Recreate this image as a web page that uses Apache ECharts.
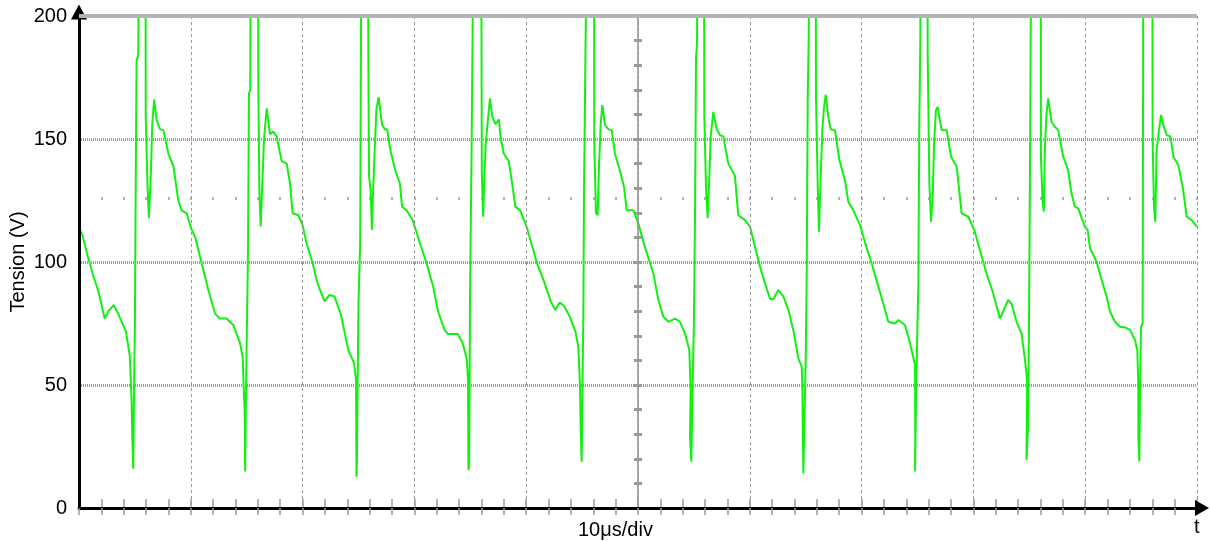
<!DOCTYPE html>
<html>
<head>
<meta charset="utf-8">
<script src="https://cdn.jsdelivr.net/npm/echarts@6/dist/echarts.min.js"></script>
<style>
html,body{margin:0;padding:0;background:#fff;}
#chart{width:1210px;height:541px;}
</style>
</head>
<body>
<div id="chart"></div>
<script>
// Time in µs, voltage in V, period by period
const period1 = [[0,114],[0.3,111],[0.8,102],[1.3,94],[1.7,88.6],[2.3,77],[2.6,79.8],[3.1,82.5],[3.5,79],[4.2,71.7],[4.55,61.5],[4.7,44],[4.77,29],[4.85,16],[4.92,46],[5.0,73.7],[5.05,115],[5.15,182],[5.3,184],[5.35,230],[5.95,230],[5.97,159],[6.12,132],[6.25,117.8],[6.42,134.7],[6.55,155.7],[6.72,166],[6.95,157.7],[7.25,154],[7.55,153.6],[8.0,144],[8.45,138.8],[8.88,125],[9.18,121],[9.63,119.8],[10.0,114]];
const period2 = [[10.4,110],[10.97,99.5],[11.57,88.6],[12.17,79],[12.6,77],[13.2,77],[13.8,74.4],[14.4,67],[14.64,61.5],[14.76,45],[14.82,40],[14.86,14.8],[14.92,40],[15.0,68],[15.12,105],[15.2,168.6],[15.32,170],[15.35,230],[16.02,230],[16.04,172],[16.13,129],[16.25,114.4],[16.37,129],[16.55,150],[16.79,162.5],[17.08,152],[17.38,153],[17.68,151],[18.13,141],[18.58,140],[18.87,132],[19.11,119.8],[19.62,119],[20.0,115]];
const period3 = [[20.35,107.6],[20.9,99.5],[21.35,91],[21.97,84],[22.4,86.6],[22.85,86],[23.4,79],[24.1,64],[24.6,59],[24.78,52],[24.8,30],[24.82,12.7],[24.86,19.5],[24.92,50.7],[25.0,83],[25.15,107.6],[25.22,190],[25.26,230],[25.86,230],[25.88,185],[25.94,135],[26.09,129],[26.2,113],[26.3,128],[26.47,148],[26.6,162],[26.8,167],[27.1,156],[27.35,154],[27.56,154],[27.85,145.5],[28.3,137],[28.7,132],[28.9,122.5],[29.3,121],[29.85,117]];
const period4 = [[30.5,107.6],[31.09,99.5],[31.68,90],[32.12,79.8],[32.7,72.4],[33.0,70.7],[33.88,70.7],[34.32,67],[34.68,60.8],[34.8,52],[34.82,30],[34.84,15.4],[34.9,18],[34.97,83],[35.12,148],[35.22,200],[35.26,230],[35.98,230],[36.0,197],[36.03,136],[36.15,118.4],[36.26,135],[36.38,148],[36.62,160],[36.76,166.5],[36.97,159],[37.26,156],[37.56,158],[37.7,151],[38.0,144],[38.44,141],[38.74,132],[39.03,122.5],[39.47,121],[40.06,114]];
const period5 = [[40.5,107],[41.0,99],[41.6,92],[42.2,84],[42.6,80.5],[43.0,83.5],[43.4,82],[43.9,77.8],[44.4,71.7],[44.66,65.6],[44.81,50],[44.88,30.5],[44.96,18.8],[45.03,46.7],[45.11,78.5],[45.17,128],[45.32,193],[45.41,230],[46.07,230],[46.09,148],[46.24,120],[46.39,119],[46.51,138.7],[46.66,155.7],[46.81,163.8],[47.05,155.6],[47.35,154],[47.65,153.5],[47.94,144],[48.39,137],[48.75,130.6],[48.99,121],[49.58,121],[50.03,115.7]];
const period6 = [[50.62,106],[51.37,95.4],[51.82,84.6],[52.26,77.8],[52.71,75.7],[53.31,77],[53.76,75.7],[54.2,71],[54.59,64.2],[54.71,48],[54.65,29],[54.77,18.8],[54.86,42.5],[55.0,75],[55.1,118.4],[55.19,182.8],[55.28,189],[55.31,230],[55.91,230],[55.93,160.4],[56.08,130.6],[56.23,117.8],[56.38,134.7],[56.5,151],[56.74,161],[57.04,154],[57.33,151.6],[57.63,151],[58.08,140],[58.67,135],[58.97,119],[59.57,117],[60.02,114.4]];
const period7 = [[60.47,106],[60.92,98],[61.36,91.3],[61.81,85],[62.11,85],[62.55,88.6],[63.0,86],[63.45,80.5],[63.89,72.4],[64.34,60.8],[64.64,57.5],[64.7,49.3],[64.79,14],[64.88,34.4],[65.0,60],[65.09,94],[65.18,167],[65.27,190],[65.3,230],[65.9,230],[65.92,167],[66.07,132],[66.19,112.3],[66.31,130.6],[66.49,153.6],[66.64,163],[66.79,168],[67.02,159],[67.23,154],[67.62,153.6],[68.01,141.5],[68.52,133],[68.81,124.5],[69.26,121],[69.86,115],[70.3,108]];
const period8 = [[70.9,99.5],[71.5,90],[71.94,83],[72.39,75.7],[72.99,75],[73.29,76.4],[73.88,74.4],[74.33,67],[74.69,60],[74.78,58],[74.8,30.4],[74.78,14.8],[74.9,53.4],[75.08,92],[75.16,156],[75.25,189],[75.28,230],[75.89,230],[75.91,185],[76.06,132],[76.21,116.4],[76.36,126.6],[76.48,148],[76.65,161.8],[76.8,163],[77.16,153.6],[77.61,153.6],[78.0,142.8],[78.5,138.8],[78.95,119.8],[79.55,118.4],[80.08,113]];
const period9 = [[80.58,104.9],[81.17,95.4],[81.77,87.3],[82.37,77],[82.76,81],[83.11,84.6],[83.41,83],[83.86,75.7],[84.3,71],[84.6,60.8],[84.81,52],[84.75,19.5],[84.9,34.4],[84.99,86],[85.07,144],[85.17,230],[86.01,230],[86.03,197.7],[86.04,142.8],[86.18,125],[86.3,120.5],[86.39,145.5],[86.54,160.4],[86.69,166.5],[86.99,157],[87.29,155],[87.58,153.6],[88.03,142.8],[88.47,137.4],[88.77,128],[89.07,122.5],[89.37,121.8],[89.97,114.4]];
const period10 = [[90.22,113],[90.43,105.6],[91.02,100.1],[91.47,92.7],[91.92,85.9],[92.22,79.8],[92.67,75.7],[93.11,73.7],[93.56,73.4],[94.01,72.4],[94.45,68.3],[94.66,64.2],[94.75,50.6],[94.76,28.3],[94.84,18.9],[94.9,45.3],[94.99,73.7],[95.14,75],[95.16,128],[95.2,230],[96.01,230],[96.03,149.6],[96.15,122.5],[96.27,116.4],[96.39,145.5],[96.57,152.3],[96.78,159.8],[96.99,155.7],[97.29,151.6],[97.64,150.9],[97.88,142.8],[98.33,139.4],[98.72,130.6],[99.08,118.4],[99.52,117],[100,114.4]];

const yTicks = [0, 50, 100, 150, 200];
const xLabel = '10μs/div';
const tLabel = 't';
const yLabel = 'Tension (V)';

const trace = [].concat(period1, period2, period3, period4, period5, period6, period7, period8, period9, period10);

const FONT = 'Liberation Sans, Arial, sans-serif';
const chart = echarts.init(document.getElementById('chart'), null, {renderer: 'canvas'});

const tickGrey = '#9a9a9a';
chart.setOption({
  animation: false,
  backgroundColor: '#fff',
  grid: {left: 79, right: 13, top: 16, bottom: 33},
  xAxis: [
    { // main bottom axis
      type: 'value', min: 0, max: 100, interval: 10, position: 'bottom', z: 4,
      axisLine: {show: true, onZero: false, symbol: ['none', 'triangle'], symbolSize: [16, 14], symbolOffset: [0, 5],
        lineStyle: {color: '#000', width: 3}},
      axisTick: {show: true, inside: false, length: 7, lineStyle: {color: tickGrey, width: 1.5}},
      minorTick: {show: true, splitNumber: 5, length: 7, lineStyle: {color: tickGrey, width: 1.5}},
      axisLabel: {show: false},
      splitLine: {show: true, lineStyle: {color: '#999', width: 1, type: [3, 3]}}
    },
    { // row of small marks at 125 V
      type: 'value', min: 0, max: 100, interval: 10, position: 'top', offset: -184, z: 1,
      axisLine: {show: false, onZero: false},
      axisTick: {show: true, length: 3, lineStyle: {color: tickGrey, width: 1.5}},
      minorTick: {show: true, splitNumber: 5, length: 3, lineStyle: {color: tickGrey, width: 1.5}},
      axisLabel: {show: false}, splitLine: {show: false}
    },
    { // inner half of the bottom ticks
      type: 'value', min: 0, max: 100, interval: 10, position: 'bottom', z: 2,
      axisLine: {show: false, onZero: false},
      axisTick: {show: true, inside: true, length: 9, lineStyle: {color: tickGrey, width: 1.5}},
      minorTick: {show: true, splitNumber: 5, length: 9, lineStyle: {color: tickGrey, width: 1.5}},
      axisLabel: {show: false}, splitLine: {show: false}
    }
  ],
  yAxis: [
    {
      type: 'value', min: yTicks[0], max: yTicks[yTicks.length - 1], interval: 50, position: 'left', z: 4,
      axisLine: {show: true, onZero: false, symbol: ['none', 'triangle'], symbolSize: [16, 15], symbolOffset: [0, 4],
        lineStyle: {color: '#000', width: 3}},
      axisTick: {show: false},
      axisLabel: {show: true, margin: 12, color: '#000', fontSize: 20, fontFamily: FONT},
      splitLine: {show: true, lineStyle: {color: '#9a9a9a', width: 3, type: [1, 1]}}
    },
    { // centre vertical line with 10 V marks
      type: 'value', min: 0, max: 200, interval: 10, position: 'left', offset: -559, z: 1,
      axisLine: {show: true, onZero: false, lineStyle: {color: '#aaaaaa', width: 2}},
      axisTick: {show: true, inside: false, length: 4, lineStyle: {color: tickGrey, width: 3}},
      axisLabel: {show: false}, splitLine: {show: false}
    },
    {
      type: 'value', min: 0, max: 200, interval: 10, position: 'left', offset: -559, z: 1,
      axisLine: {show: false, onZero: false},
      axisTick: {show: true, inside: true, length: 4, lineStyle: {color: tickGrey, width: 3}},
      axisLabel: {show: false}, splitLine: {show: false}
    }
  ],
  graphic: [
    {type: 'text', left: 578, top: 520, z: 10, style: {text: xLabel, fontSize: 20, fontFamily: FONT, fill: '#000'}},
    {type: 'text', left: 1194, top: 517, z: 10, style: {text: tLabel, fontSize: 20, fontFamily: FONT, fill: '#000'}},
    {type: 'text', x: 18, y: 262, rotation: Math.PI / 2, z: 10,
      style: {text: yLabel, fontSize: 20, fontFamily: FONT, fill: '#000', align: 'center', verticalAlign: 'middle'}}
  ],
  series: [
    {
      type: 'line', xAxisIndex: 0, yAxisIndex: 0, data: [], z: 1, silent: true,
      markLine: {silent: true, symbol: 'none', label: {show: false}, animation: false,
        lineStyle: {color: '#b4b4b4', type: 'solid', width: 4}, data: [{yAxis: yTicks[yTicks.length - 1]}]}
    },
    {
      type: 'line', xAxisIndex: 0, yAxisIndex: 0, data: trace, z: 3,
      showSymbol: false, symbol: 'none', clip: true, silent: true,
      lineStyle: {color: '#12f012', width: 2}
    }
  ]
});
</script>
</body>
</html>
